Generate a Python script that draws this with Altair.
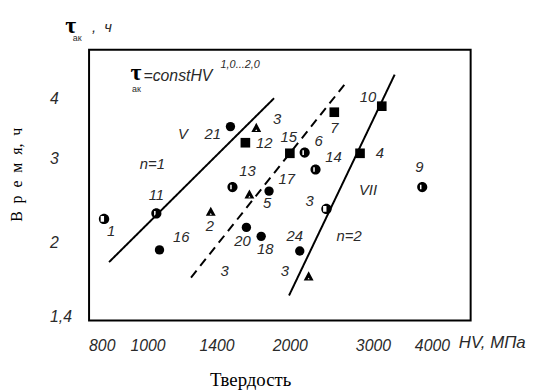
import altair as alt
import pandas as pd

# ---- data ----
x_ticks = [800, 1000, 1400, 2000, 3000, 4000]
y_ticks = [1.4, 2, 3, 4]

line_id = ["V", "V", "mid", "mid", "VII", "VII"]
line_x = [829, 1853, 1236, 2646, 1993, 3335]
line_y = [1.82, 4.0, 1.69, 4.34, 1.55, 4.48]

pt_x = [1498, 1699, 1611, 2001, 2151, 2485, 3132, 2817, 2268, 3815, 1513,
        1643, 1808, 2392, 1361, 1619, 1740, 2100, 2193, 1060, 809, 1044]
pt_y = [3.49, 3.47, 3.23, 3.07, 3.08, 3.74, 3.85, 3.07, 2.84, 2.61, 2.61,
        2.52, 2.56, 2.35, 2.32, 2.15, 2.06, 1.92, 1.70, 1.93, 2.24, 2.30]
pt_kind = ["circle", "triangle", "square", "square", "half", "square", "square",
           "square", "half", "half", "half", "triangle", "circle", "open",
           "triangle", "circle", "circle", "circle", "triangle", "circle",
           "open", "half"]

lab_text = ["21", "3", "12", "15", "6", "7", "10", "4", "14", "9", "13", "5",
            "17", "3", "2", "20", "18", "24", "3", "n=2", "3", "16", "1", "11",
            "V", "n=1", "VII"]
lab_x = [1374, 1880, 1766, 1991, 2301, 2485, 2928, 3102, 2474, 3761, 1627,
         1791, 1972, 2203, 1355, 1588, 1774, 2050, 1953, 2672, 1456, 1178,
         837, 1044, 1189, 1024, 2928]
lab_y = [3.37, 3.62, 3.22, 3.32, 3.26, 3.47, 4.02, 3.07, 3.01, 2.88, 2.82,
         2.42, 2.71, 2.44, 2.16, 2.01, 1.94, 2.06, 1.74, 2.06, 1.74, 2.05,
         2.11, 2.51, 3.37, 2.92, 2.57]

W, H = 386, 274
xdom = [752, 4830]
ydom = [1.374, 5.05]

xs = alt.Scale(type="log", domain=xdom, nice=False, zero=False)
ys = alt.Scale(type="log", domain=ydom, nice=False, zero=False)

SANS = "Liberation Sans"
SERIF = "Liberation Serif"
TXT = "#2a2a2a"

lines_df = pd.DataFrame({"id": line_id, "x": line_x, "y": line_y})
pts_df = pd.DataFrame({"x": pt_x, "y": pt_y, "kind": pt_kind})
lab_df = pd.DataFrame({"t": lab_text, "x": lab_x, "y": lab_y})

x_axis = alt.Axis(values=x_ticks, labelExpr="format(datum.value, 'd')",
                  title="Твердость", titleFont=SERIF, titleFontSize=19,
                  titleFontWeight="normal", titleColor="black",
                  titleX=163, titleY=51, titleAnchor="middle",
                  labelFont=SANS, labelFontStyle="italic", labelFontSize=16,
                  labelColor=TXT, labelPadding=17, grid=False, ticks=False,
                  tickSize=0, domain=False, labelFlush=False, labelOverlap=False)
y_axis = alt.Axis(values=y_ticks,
                  labelExpr="replace(format(datum.value, '~g'), '.', ',')",
                  title="В\u00a0\u00a0р\u00a0\u00a0е\u00a0\u00a0м\u00a0\u00a0я,\u00a0\u00a0ч",
                  titleFont=SERIF, titleFontSize=16, titleFontWeight="normal",
                  titleColor="black", titleX=-73, titleY=126, titleAngle=-90,
                  titleAnchor="middle", titleBaseline="middle",
                  labelFont=SANS, labelFontStyle="italic", labelFontSize=16,
                  labelColor=TXT, labelAlign="left", labelPadding=40,
                  grid=False, ticks=False, tickSize=0, domain=False,
                  labelFlush=False, labelOverlap=False)

# plot frame
frame = alt.Chart(pd.DataFrame({"f": [0]})).mark_rect(
    fillOpacity=0, stroke="black", strokeWidth=2
).encode(x=alt.value(0), x2=alt.value(W), y=alt.value(0), y2=alt.value(H))

lines = alt.Chart(lines_df).mark_line(color="black", strokeWidth=2).encode(
    x=alt.X("x:Q", scale=xs, axis=x_axis),
    y=alt.Y("y:Q", scale=ys, axis=y_axis),
    detail="id:N",
    strokeDash=alt.StrokeDash("id:N", scale=alt.Scale(
        domain=["V", "mid", "VII"], range=[[1, 0], [9, 6], [1, 0]]), legend=None),
)

CIRC = "M0,-1A1,1 0 1,1 0,1A1,1 0 1,1 0,-1Z"
shape_paths = {
    "circle": "circle",
    "square": "square",
    "triangle": "M0,-1L1,0.85L-1,0.85ZM0,0.3L-0.22,0.62L0.22,0.62Z",
    "half": CIRC + "M-0.45,-0.45L-0.45,0.45L-0.15,0.45L-0.15,-0.45Z",
    "open": CIRC + "M-0.65,-0.55L-0.65,0.55L0.0,0.55L0.0,-0.55Z",
}
kinds = list(shape_paths.keys())
sizes = [90, 110, 130, 85, 85]

points = alt.Chart(pts_df).mark_point(filled=True, color="black", opacity=1,
                                      strokeWidth=0).encode(
    x=alt.X("x:Q", scale=xs),
    y=alt.Y("y:Q", scale=ys),
    shape=alt.Shape("kind:N", scale=alt.Scale(
        domain=kinds, range=[shape_paths[k] for k in kinds]), legend=None),
    size=alt.Size("kind:N", scale=alt.Scale(domain=kinds, range=sizes),
                  legend=None),
)

labels = alt.Chart(lab_df).mark_text(font=SANS, fontStyle="italic",
                                     fontSize=15, color=TXT).encode(
    x=alt.X("x:Q", scale=xs),
    y=alt.Y("y:Q", scale=ys),
    text="t:N",
)

# ---- annotations (pixel positions relative to the plot area) ----
ann = [
    # text, x, y, font, size, weight, style, align
    ("τ", -13, -24, SERIF, 24, "bold", "normal", "right"),
    ("ак", -12, -12, SANS, 9, "normal", "normal", "center"),
    (",\u00a0\u00a0ч", 3, -23, SANS, 15, "normal", "italic", "left"),
    ("τ", 53, 24, SERIF, 24, "bold", "normal", "right"),
    ("ак", 48, 40, SANS, 9, "normal", "normal", "center"),
    ("=constHV", 55, 27, SANS, 16, "normal", "italic", "left"),
    ("1,0...2,0", 133, 15, SANS, 11, "normal", "italic", "left"),
    ("HV, МПа", 374, 297, SANS, 17, "normal", "italic", "left"),
]
ann_layers = []
for t, ax, ay, f, s, w, st, al in ann:
    ann_layers.append(
        alt.Chart(pd.DataFrame({"t": [t]})).mark_text(
            font=f, fontSize=s, fontWeight=w, fontStyle=st, align=al,
            baseline="middle", color="black" if s > 20 else TXT
        ).encode(x=alt.value(ax), y=alt.value(ay), text="t:N")
    )

chart = alt.layer(frame, lines, points, labels, *ann_layers).properties(
    width=W, height=H,
    background="white",
    autosize=alt.AutoSizeParams(type="none"),
    padding={"left": 82, "top": 40, "right": 56, "bottom": 68},
).configure_view(stroke=None)

chart.save("out.html", embed_options={"renderer": "svg", "actions": False})
